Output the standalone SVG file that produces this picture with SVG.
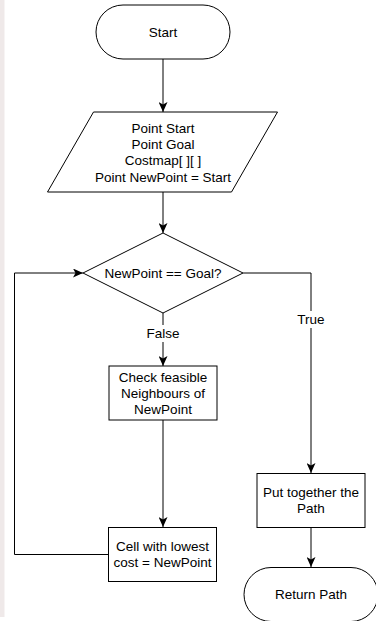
<svg xmlns="http://www.w3.org/2000/svg" width="376" height="621" viewBox="0 0 376 621">
<defs>
<style>
.shape{fill:#fff;stroke:#000;stroke-width:1}
.edge{fill:none;stroke:#000;stroke-width:1}
text{font-family:"Liberation Sans",Arial,Helvetica,sans-serif;font-size:13.5px;fill:#000;text-anchor:middle}
.lbl{fill:#fff;stroke:none}
</style>
<marker id="arrow" markerUnits="userSpaceOnUse" markerWidth="10" markerHeight="9" refX="10" refY="4.5" orient="auto" viewBox="0 0 10 9">
<path d="M0,0 L10,4.5 L0,9 L2.5,4.5 Z" fill="#000"/>
</marker>
</defs>
<rect x="0" y="0" width="376" height="621" fill="#fff"/>
<rect x="0" y="0" width="4.5" height="617" fill="#efe9e9"/>
<g id="connectors">
<path class="edge" d="M163,59 V112" marker-end="url(#arrow)"/>
<path class="edge" d="M163,192 V233" marker-end="url(#arrow)"/>
<path class="edge" d="M163,313 V366" marker-end="url(#arrow)"/>
<path class="edge" d="M163,420 V527" marker-end="url(#arrow)"/>
<path class="edge" d="M108.5,554.5 H14.5 V273 H83" marker-end="url(#arrow)"/>
<path class="edge" d="M243,273 H311 V473" marker-end="url(#arrow)"/>
<path class="edge" d="M311,527 V567" marker-end="url(#arrow)"/>
<rect class="lbl" x="146" y="325" width="34" height="17"/>
<text x="163" y="338">False</text>
<rect class="lbl" x="296" y="311" width="30" height="17"/>
<text x="311" y="324">True</text>
</g>
<g id="start">
<rect class="shape" x="96" y="5" width="134" height="54" rx="27" ry="27"/>
<text x="163" y="36.8">Start</text>
</g>
<g id="input">
<polygon class="shape" points="93.5,112 277.5,112 231.5,192 47.5,192"/>
<text x="163" y="132.8">Point Start</text>
<text x="163" y="149.1">Point Goal</text>
<text x="163" y="165.4">Costmap[ ][ ]</text>
<text x="163" y="181.7">Point NewPoint = Start</text>
</g>
<g id="decision">
<polygon class="shape" points="163,233 243,273 163,313 83,273"/>
<text x="163" y="277.6">NewPoint == Goal?</text>
</g>
<g id="check">
<rect class="shape" x="109" y="366" width="108" height="54"/>
<text x="163" y="381.6">Check feasible</text>
<text x="163" y="397.8">Neighbours of</text>
<text x="163" y="414">NewPoint</text>
</g>
<g id="cell">
<rect class="shape" x="108.5" y="527.5" width="108" height="54"/>
<text x="162.5" y="551">Cell with lowest</text>
<text x="162.5" y="567.2">cost = NewPoint</text>
</g>
<g id="assemble">
<rect class="shape" x="257" y="473.5" width="108" height="54"/>
<text x="311" y="497">Put together the</text>
<text x="311" y="513.2">Path</text>
</g>
<g id="return">
<rect class="shape" x="244" y="567.5" width="134" height="54" rx="27" ry="27"/>
<text x="311" y="598.8">Return Path</text>
</g>
</svg>
